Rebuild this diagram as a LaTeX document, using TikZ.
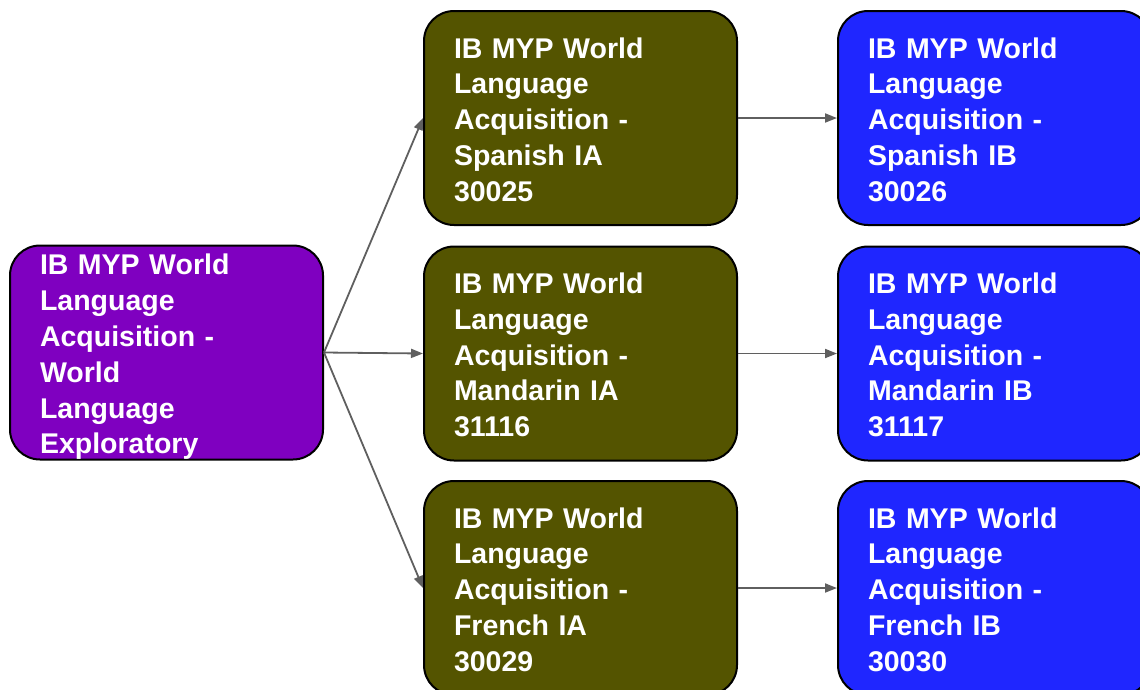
\documentclass[tikz,border=0pt]{standalone}
\usepackage{fontspec}
\setmainfont{Liberation Sans}
\usetikzlibrary{arrows.meta}
\definecolor{cpurple}{HTML}{7F00C0}
\definecolor{colive}{HTML}{545400}
\definecolor{cblue}{HTML}{1F26FF}
\definecolor{carrow}{HTML}{5F5F5F}
\tikzset{
  box/.style={draw=black, line width=2pt, rounded corners=30pt,
    minimum width=313pt, minimum height=214pt, inner sep=0pt},
  purplebox/.style={box, fill=cpurple},
  olivebox/.style={box, fill=colive},
  bluebox/.style={box, fill=cblue},
  boxtext/.style={text width=253pt, inner sep=0pt, align=left, text=white,
    font=\bfseries\fontsize{28.5}{35.8}\selectfont},
  conn/.style={draw=carrow, line width=1.8pt, -{Triangle[length=12pt,width=9pt]}}
}
\begin{document}
\begin{tikzpicture}[x=1pt,y=1pt]
\useasboundingbox (0,0) rectangle (1140,-689);
\clip (0,0) rectangle (1140,-689);
\node[purplebox] (p) at (166.5,-352.5) {};
\node[olivebox] (o1) at (580.5,-118) {};
\node[olivebox] (o2) at (580.5,-353.5) {};
\node[olivebox] (o3) at (580.5,-588) {};
\node[bluebox] (b1) at (994.5,-118) {};
\node[bluebox] (b2) at (994.5,-353.5) {};
\node[bluebox] (b3) at (994.5,-588) {};
\node[boxtext] (pt) at ([yshift=-4.5pt]p.center) {IB MYP World\\Language\\Acquisition -\\World\\Language\\Exploratory};
\node[boxtext] (o1t) at ([yshift=-1.5pt]o1.center) {IB MYP World\\Language\\Acquisition -\\Spanish IA\\30025};
\node[boxtext] (o2t) at ([yshift=-1.5pt]o2.center) {IB MYP World\\Language\\Acquisition -\\Mandarin IA\\31116};
\node[boxtext] (o3t) at ([yshift=-1.5pt]o3.center) {IB MYP World\\Language\\Acquisition -\\French IA\\30029};
\node[boxtext] (b1t) at ([yshift=-1.5pt]b1.center) {IB MYP World\\Language\\Acquisition -\\Spanish IB\\30026};
\node[boxtext] (b2t) at ([yshift=-1.5pt]b2.center) {IB MYP World\\Language\\Acquisition -\\Mandarin IB\\31117};
\node[boxtext] (b3t) at ([yshift=-1.5pt]b3.center) {IB MYP World\\Language\\Acquisition -\\French IB\\30030};
\draw[conn] (p.east) -- (o1.west);
\draw[conn] (p.east) -- (o2.west);
\draw[conn] (p.east) -- (o3.west);
\draw[conn] (o1.east) -- (b1.west);
\draw[conn] (o2.east) -- (b2.west);
\draw[conn] (o3.east) -- (b3.west);
\end{tikzpicture}
\end{document}
